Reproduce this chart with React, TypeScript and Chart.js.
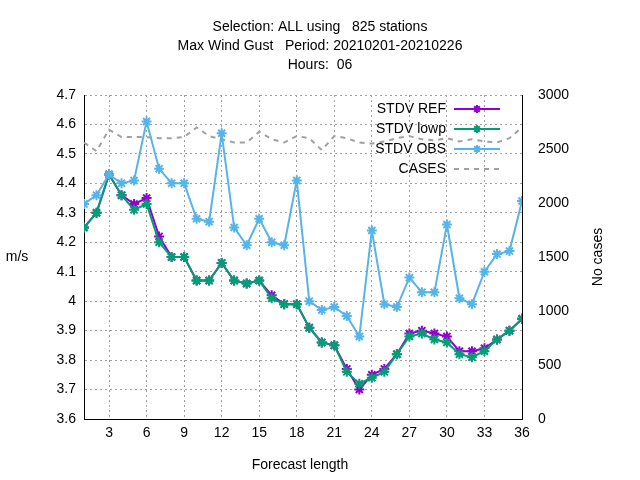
import { useEffect, useRef } from 'react';
import { Chart, registerables } from 'chart.js';

Chart.register(...registerables);

const leadTimes = Array.from({ length: 36 }, (_, i) => i + 1);
const xTicks = [3, 6, 9, 12, 15, 18, 21, 24, 27, 30, 33, 36];
const titleLines = ['Selection: ALL using   825 stations', 'Max Wind Gust   Period: 20210201-20210226', 'Hours:  06'];

const stdvRef = [4.25, 4.30, 4.43, 4.36, 4.33, 4.35, 4.22, 4.15, 4.15, 4.07, 4.07, 4.13, 4.07, 4.06, 4.07, 4.02, 3.99, 3.99,
  3.91, 3.86, 3.85, 3.77, 3.70, 3.75, 3.77, 3.82, 3.89, 3.90, 3.89, 3.88, 3.83, 3.83, 3.84, 3.87, 3.90, 3.94];
const stdvLowp = [4.25, 4.30, 4.43, 4.36, 4.31, 4.33, 4.20, 4.15, 4.15, 4.07, 4.07, 4.13, 4.07, 4.06, 4.07, 4.01, 3.99, 3.99,
  3.91, 3.86, 3.85, 3.76, 3.72, 3.74, 3.76, 3.82, 3.88, 3.89, 3.87, 3.86, 3.82, 3.81, 3.83, 3.87, 3.90, 3.94];
const stdvObs = [4.33, 4.36, 4.43, 4.40, 4.41, 4.61, 4.45, 4.40, 4.40, 4.28, 4.27, 4.57, 4.25, 4.19, 4.28, 4.20, 4.19, 4.41,
  4.00, 3.97, 3.98, 3.95, 3.88, 4.24, 3.99, 3.98, 4.08, 4.03, 4.03, 4.26, 4.01, 3.99, 4.10, 4.16, 4.17, 4.34];
const cases = [2560, 2480, 2680, 2610, 2610, 2610, 2600, 2600, 2610, 2700, 2620, 2590, 2560, 2560, 2660, 2590, 2560, 2620,
  2600, 2490, 2620, 2600, 2560, 2550, 2570, 2600, 2620, 2590, 2580, 2600, 2570, 2590, 2570, 2560, 2600, 2700];

const FONT = '"Liberation Sans", Arial, sans-serif';

const textPlugin = {
  id: 'gnuplotText',
  afterDraw(chart: Chart) {
    const ctx = chart.ctx;
    const { right, top } = chart.chartArea;
    ctx.save();
    ctx.fillStyle = '#000';
    ctx.font = `14px ${FONT}`;
    ctx.textAlign = 'center';
    ctx.textBaseline = 'middle';
    titleLines.forEach((t, i) => ctx.fillText(t, 320, 27 + i * 19));
    ctx.fillText('Forecast length', 300, 465);
    ctx.fillText('m/s', 17, 257);
    ctx.save();
    ctx.translate(598, 257);
    ctx.rotate(-Math.PI / 2);
    ctx.fillText('No cases', 0, 0);
    ctx.restore();
    // legend, gnuplot style: text right-aligned, sample on the right
    chart.data.datasets.forEach((ds: any, i) => {
      const y = top + 14 + i * 20;
      const x1 = right - 68, x2 = right - 22;
      ctx.textAlign = 'right';
      ctx.fillStyle = '#000';
      ctx.fillText(ds.label, x1 - 8, y);
      ctx.strokeStyle = ds.borderColor;
      ctx.lineWidth = ds.borderWidth;
      ctx.setLineDash(ds.borderDash || []);
      ctx.beginPath();
      ctx.moveTo(x1, y);
      ctx.lineTo(x2, y);
      ctx.stroke();
      ctx.setLineDash([]);
      if (ds.pointRadius) {
        const cx = (x1 + x2) / 2, r = 4;
        ctx.lineWidth = 2;
        ctx.beginPath();
        for (const a of [0, Math.PI / 4, Math.PI / 2, (3 * Math.PI) / 4]) {
          ctx.moveTo(cx - r * Math.cos(a), y - r * Math.sin(a));
          ctx.lineTo(cx + r * Math.cos(a), y + r * Math.sin(a));
        }
        ctx.stroke();
      }
    });
    ctx.restore();
  },
};

export default function App() {
  const canvasRef = useRef<HTMLCanvasElement>(null);
  const chartRef = useRef<Chart | null>(null);

  useEffect(() => {
    if (!canvasRef.current) return;
    const ctx = canvasRef.current.getContext('2d');
    if (!ctx) return;

    const line = (label: string, data: number[], color: string, order: number) => ({
      label,
      data: data.map((y, i) => ({ x: leadTimes[i], y })),
      borderColor: color,
      backgroundColor: color,
      borderWidth: 2,
      pointStyle: 'star',
      pointRadius: 5,
      pointBorderWidth: 2,
      yAxisID: 'y',
      order,
    });

    chartRef.current = new Chart(ctx, {
      type: 'line',
      data: {
        datasets: [
          line('STDV REF', stdvRef, '#9400d3', 2),
          line('STDV lowp', stdvLowp, '#009e73', 1),
          line('STDV OBS', stdvObs, '#56b4e9', 0),
          {
            label: 'CASES',
            data: cases.map((y, i) => ({ x: leadTimes[i], y })),
            borderColor: '#a0a0a0',
            borderWidth: 2,
            borderDash: [5, 5],
            pointRadius: 0,
            yAxisID: 'y1',
            order: 3,
          } as any,
        ],
      },
      options: {
        responsive: false,
        animation: false,
        layout: { padding: { top: 95 } },
        plugins: { legend: { display: false }, tooltip: { enabled: false } },
        scales: {
          x: {
            type: 'linear',
            min: 1,
            max: 36,
            afterBuildTicks: (s: any) => { s.ticks = xTicks.map((v) => ({ value: v })); },
            afterFit: (s: any) => { s.height = 61; },
            grid: { color: '#a0a0a0', tickLength: 0, drawTicks: false },
            border: { dash: [2, 3], color: '#000', width: 1 },
            ticks: { color: '#000', font: { family: FONT, size: 14 }, padding: 6, maxRotation: 0 },
          },
          y: {
            position: 'left',
            min: 3.6,
            max: 4.7,
            afterFit: (s: any) => { s.width = 84; },
            grid: { color: '#a0a0a0', drawTicks: false },
            border: { dash: [2, 3], color: '#000' },
            ticks: { stepSize: 0.1, color: '#000', font: { family: FONT, size: 14 }, padding: 8,
              callback: (v: any) => String(Math.round(Number(v) * 10) / 10) },
          },
          y1: {
            position: 'right',
            min: 0,
            max: 3000,
            afterFit: (s: any) => { s.width = 118; },
            grid: { display: false },
            border: { color: '#000' },
            ticks: { stepSize: 500, color: '#000', font: { family: FONT, size: 14 }, padding: 8,
              callback: (v: any) => String(v) },
          },
        },
      },
      plugins: [textPlugin],
    });

    return () => { chartRef.current?.destroy(); chartRef.current = null; };
  }, []);

  return (
    <div style={{ position: 'fixed', left: 0, top: 0, width: 640, height: 480, background: '#fff' }}>
      <canvas ref={canvasRef} width={640} height={480} />
    </div>
  );
}
